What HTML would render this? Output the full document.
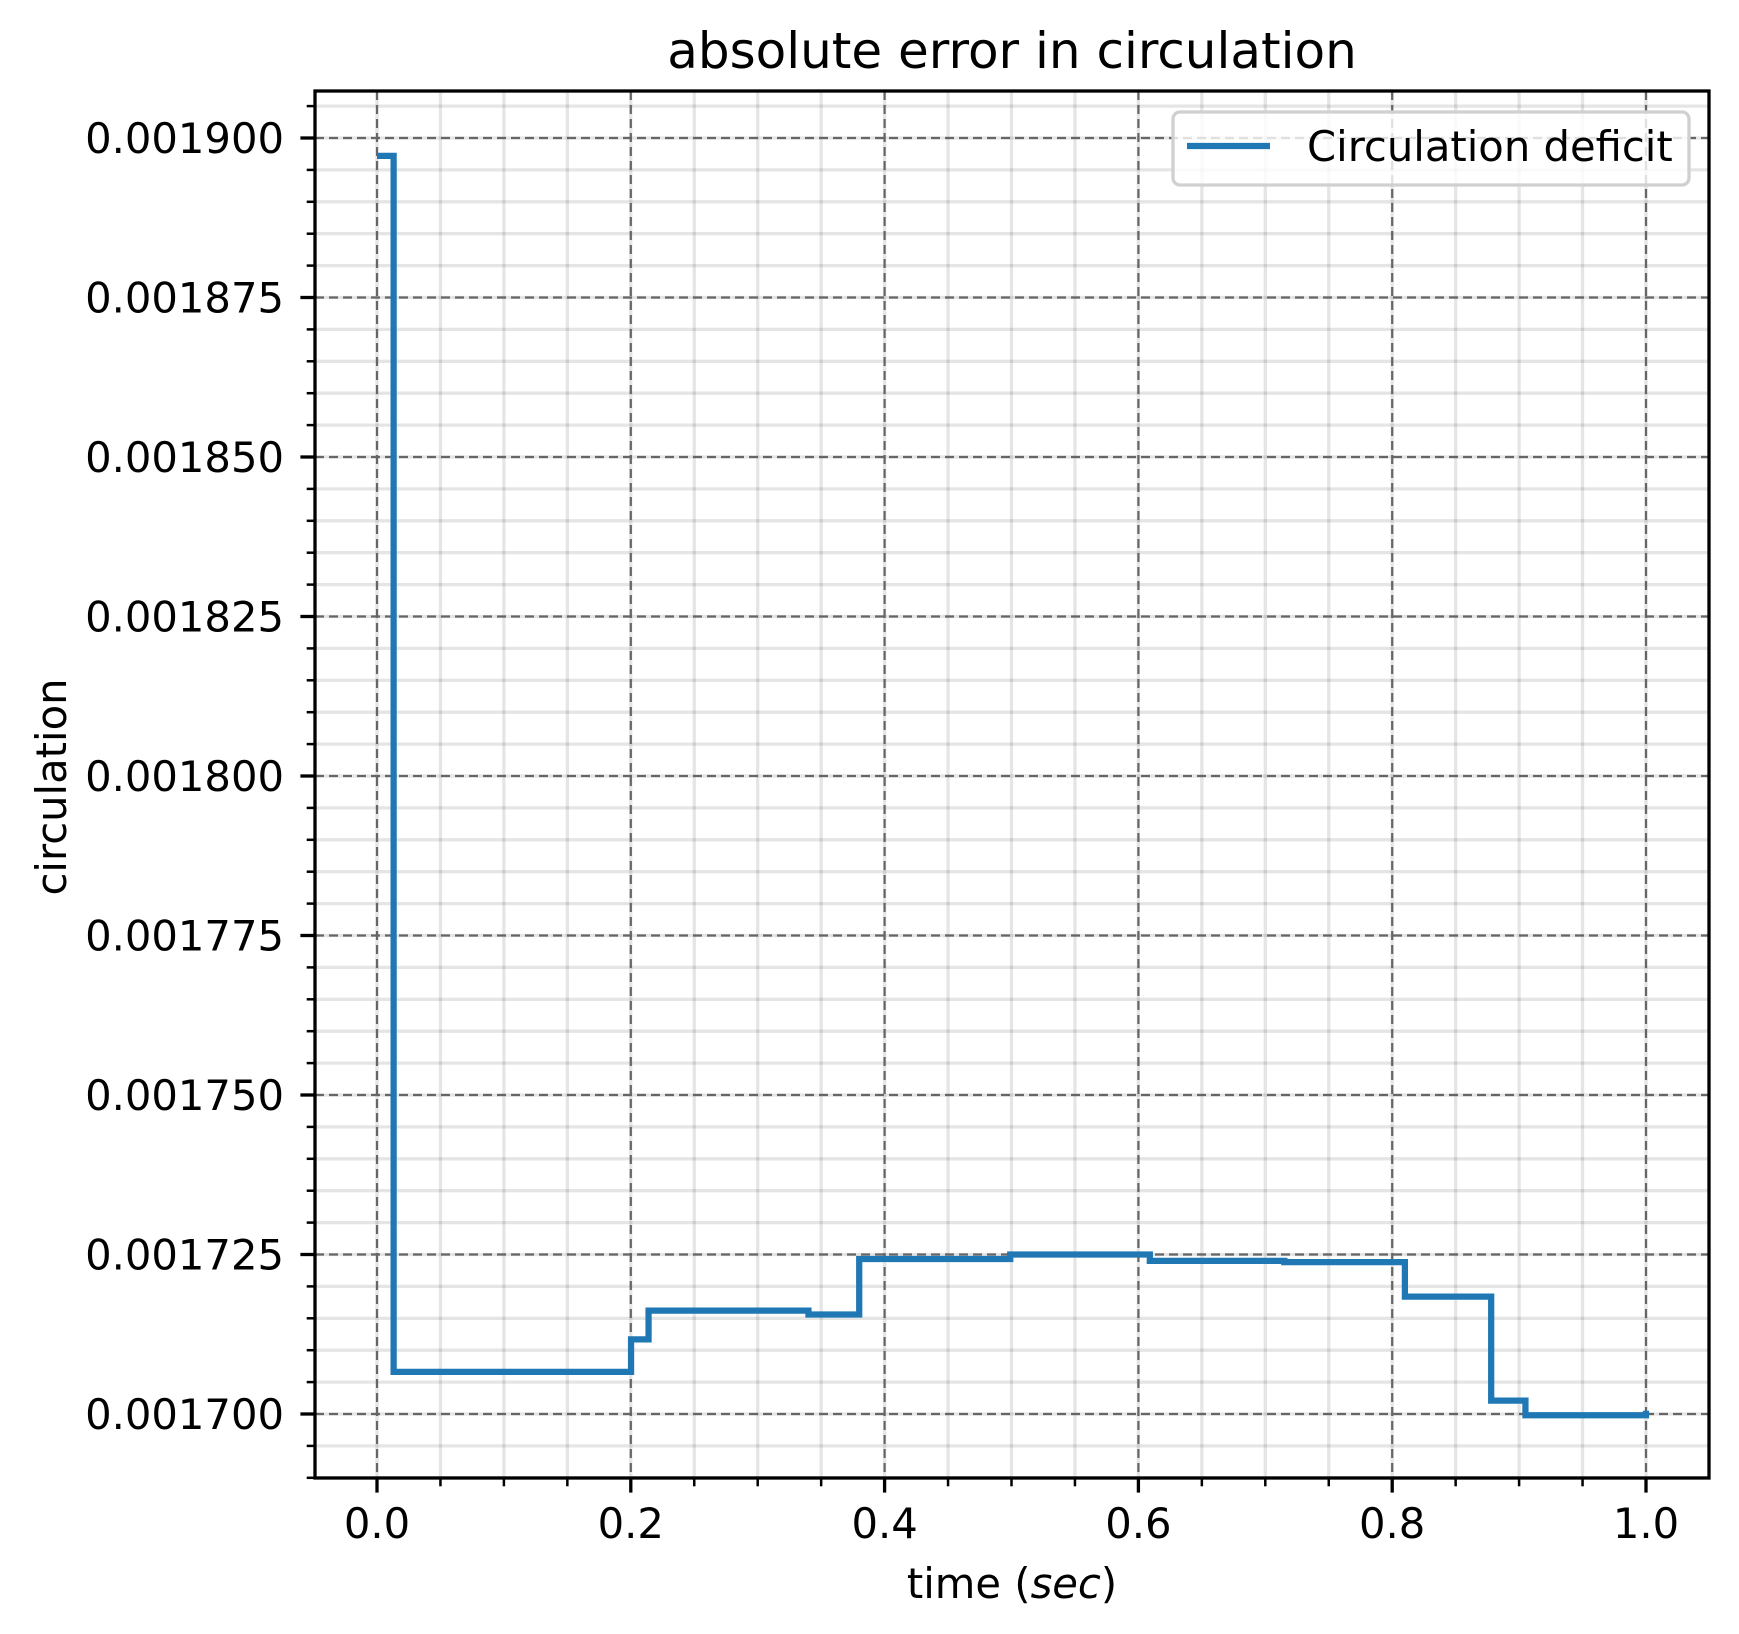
<!DOCTYPE html>
<html><head><meta charset="utf-8"><style>
html,body{margin:0;padding:0;background:#fff;}
svg{display:block;font-family:"DejaVu Sans","Liberation Sans",sans-serif;}
</style></head><body>
<svg id="chart" width="1739" height="1634" viewBox="0 0 1739 1634" xmlns="http://www.w3.org/2000/svg">
<rect width="1739" height="1634" fill="#fff"/>
<g id="grid"></g>
<g id="series"></g>
<rect x="315" y="91" width="1394" height="1387" fill="none" stroke="#000" stroke-width="3.3"/>
<g id="ticks"></g>
<text x="1012" y="68" font-size="50" text-anchor="middle">absolute error in circulation</text>
<text x="1012" y="1598" font-size="41.7" text-anchor="middle">time (<tspan font-style="italic">sec</tspan>)</text>
<text transform="translate(66,787) rotate(-90)" font-size="41.7" text-anchor="middle">circulation</text>
<g>
<rect x="1173" y="112" width="516" height="73" rx="7" fill="#fff" fill-opacity="0.8" stroke="#d0d0d0" stroke-width="3.3"/>
<line x1="1187" y1="146" x2="1270" y2="146" stroke="#1f77b4" stroke-width="6.25"/>
<text x="1307" y="161" font-size="41.7">Circulation deficit</text>
</g>
</svg>
<script>
const times = [0, 0.0131, 0.2002, 0.214, 0.340, 0.380, 0.499, 0.609, 0.715, 0.810, 0.878, 0.905, 0.998, 1.0];
const values = [0.0018972, 0.0017066, 0.0017117, 0.0017162, 0.0017156, 0.0017243, 0.0017250, 0.0017240, 0.0017238, 0.0017184, 0.0017021, 0.0016998, 0.0016998, 0.0017005];
const xTicks = [0.0, 0.2, 0.4, 0.6, 0.8, 1.0];
const xTickLabels = ["0.0","0.2","0.4","0.6","0.8","1.0"];
const yTicks = [0.0017, 0.001725, 0.00175, 0.001775, 0.0018, 0.001825, 0.00185, 0.001875, 0.0019];
const yTickLabels = ["0.001700","0.001725","0.001750","0.001775","0.001800","0.001825","0.001850","0.001875","0.001900"];

const NS = "http://www.w3.org/2000/svg";
const L=315,R=1709,T=91,B=1478;
function xs(t){return 377 + t*(1646-377);}
function ys(v){return 1414 - (v-0.0017)/0.000025*159.5;}
function mk(tag,attrs,parent){const e=document.createElementNS(NS,tag);for(const k in attrs)e.setAttribute(k,attrs[k]);parent.appendChild(e);return e;}
const grid=document.getElementById('grid'), ticks=document.getElementById('ticks'), series=document.getElementById('series');

// minor grid + ticks
for(let t=-0.05;t<=1.1;t+=0.05){const x=xs(t);if(x<L||x>R)continue;
  const g=mk('line',{x1:x,x2:x,y1:T,y2:B,stroke:'#000','stroke-opacity':0.1,'stroke-width':3.3},grid);
  
  
  const tk=mk('line',{x1:x,x2:x,y1:B,y2:B+8.3,stroke:'#000','stroke-width':2.5},ticks);
  
  }
for(let i=-3;i<=45;i++){const v=0.0017+i*0.000005;const y=ys(v);if(y<T||y>B)continue;
  const g=mk('line',{x1:L,x2:R,y1:y,y2:y,stroke:'#000','stroke-opacity':0.1,'stroke-width':3.3},grid);
  
  
  const tk=mk('line',{x1:L-8.3,x2:L,y1:y,y2:y,stroke:'#000','stroke-width':2.5},ticks);
  
  }
// major
xTicks.forEach((t,i)=>{const x=xs(t);
  const g=mk('line',{x1:x,x2:x,y1:T,y2:B,stroke:'#666','stroke-width':2.2,'stroke-dasharray':'9,5'},grid);
  
  
  const tk=mk('line',{x1:x,x2:x,y1:B,y2:B+14.6,stroke:'#000','stroke-width':3.3},ticks);
  
  
  const tx=mk('text',{x:x,y:1538,'font-size':41.7,'text-anchor':'middle'},ticks);tx.textContent=xTickLabels[i];
  
  });
yTicks.forEach((v,i)=>{const y=ys(v);
  const g=mk('line',{x1:L,x2:R,y1:y,y2:y,stroke:'#666','stroke-width':2.2,'stroke-dasharray':'9,5'},grid);
  
  
  const tk=mk('line',{x1:L-14.6,x2:L,y1:y,y2:y,stroke:'#000','stroke-width':3.3},ticks);
  
  
  const tx=mk('text',{x:284,y:y+15,'font-size':41.7,'text-anchor':'end'},ticks);tx.textContent=yTickLabels[i];
  
  });
// series (step-after)
let d='M'+xs(times[0])+','+ys(values[0]);
for(let i=1;i<times.length;i++){d+=' L'+xs(times[i])+','+ys(values[i-1])+' L'+xs(times[i])+','+ys(values[i]);}
const p=mk('path',{d:d,fill:'none',stroke:'#1f77b4','stroke-width':6.25,'stroke-linejoin':'miter'},series);


</script>
</body></html>
